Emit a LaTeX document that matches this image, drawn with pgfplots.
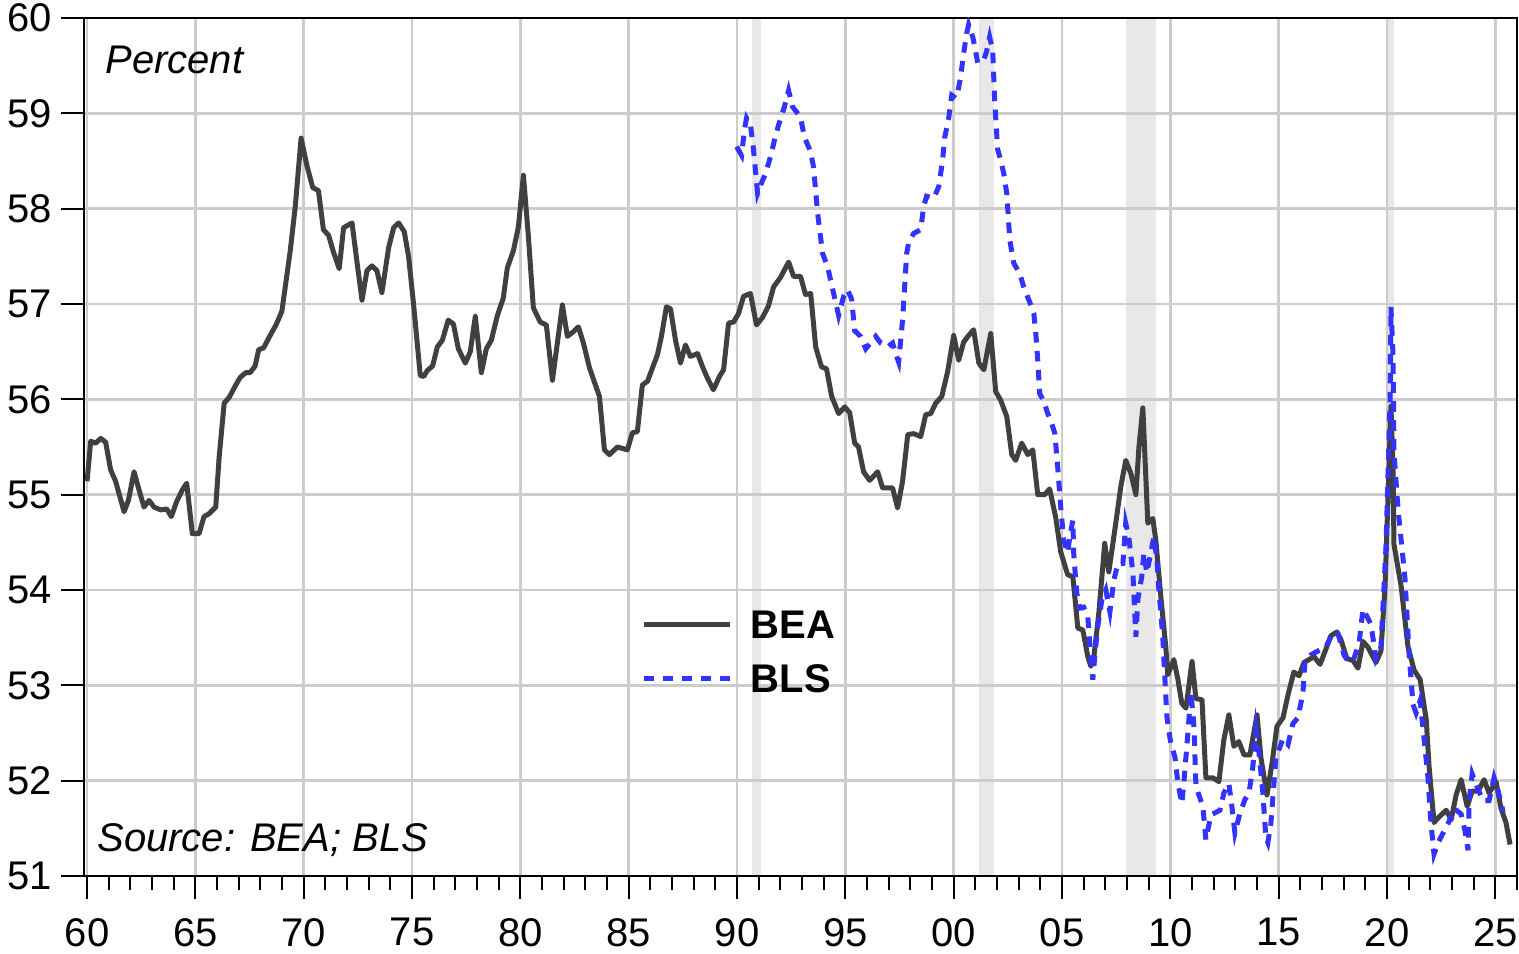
\documentclass[border=0pt]{standalone}
\usepackage{fontspec}
\setmainfont{Liberation Sans}
\usepackage{pgfplots}
\pgfplotsset{compat=1.18}
\definecolor{beagray}{HTML}{404040}
\definecolor{blsblue}{RGB}{51,51,255}
\definecolor{recess}{HTML}{E8E8E8}
\definecolor{gridgray}{HTML}{CCCCCC}
\begin{document}
\begin{tikzpicture}
\begin{axis}[
    scale only axis,
    width=716.5pt, height=429pt,
    xmin=1959.86, xmax=2026,
    ymin=51, ymax=60,
    xtick={1960,1965,...,2025},
    xticklabels={60,65,70,75,80,85,90,95,00,05,10,15,20,25},
    minor xtick={1960,...,2026},
    ytick={51,...,60},
    xtick pos=left, ytick pos=left,
    tick align=outside,
    major tick length=11.5pt, minor tick length=7pt,
    tick style={black, line width=1pt},
    grid=major,
    major grid style={gridgray, line width=1.2pt},
    axis line style={black, line width=1.4pt},
    ticklabel style={font=\fontsize{20}{24}\selectfont},
    /pgf/number format/assume math mode=true,
    yticklabel style={anchor=east, inner sep=0pt, xshift=-4.5pt},
    xticklabel style={anchor=north, inner sep=0pt, yshift=-9.5pt},
    set layers,
    legend style={at={(axis cs:1985.58,53.79)}, anchor=north west,
        draw=none, fill=none, inner sep=0pt, outer sep=0pt, row sep=12.7pt,
        font=\bfseries\fontsize{20}{24}\selectfont,
        nodes={inner sep=0pt, text height=14.3pt, text depth=0pt},
        /tikz/every odd column/.append style={column sep=9.35pt}},
    legend cell align=left,
    legend image code/.code={\draw[#1] (0pt,0pt) -- (43pt,0pt);},
]
% recessions
\addplot[on layer=axis background, draw=none, fill=recess, forget plot]
    coordinates {(1990.67,51) (1990.67,60) (1991.12,60) (1991.12,51)} -- cycle;
\addplot[on layer=axis background, draw=none, fill=recess, forget plot]
    coordinates {(2001.17,51) (2001.17,60) (2001.86,60) (2001.86,51)} -- cycle;
\addplot[on layer=axis background, draw=none, fill=recess, forget plot]
    coordinates {(2007.94,51) (2007.94,60) (2009.33,60) (2009.33,51)} -- cycle;
\addplot[on layer=axis background, draw=none, fill=recess, forget plot]
    coordinates {(2020.00,51) (2020.00,60) (2020.33,60) (2020.33,51)} -- cycle;

% BEA
\addplot[beagray, line width=2.5pt, line join=round] table {
x y
1960.00 55.14
1960.17 55.56
1960.40 55.54
1960.63 55.59
1960.86 55.55
1961.09 55.26
1961.32 55.14
1961.71 54.82
1961.91 54.94
1962.17 55.24
1962.40 55.05
1962.63 54.87
1962.86 54.94
1963.09 54.87
1963.40 54.84
1963.68 54.85
1963.89 54.77
1964.14 54.93
1964.40 55.05
1964.60 55.12
1964.86 54.59
1965.17 54.59
1965.40 54.77
1965.63 54.80
1965.94 54.87
1966.10 55.40
1966.33 55.96
1966.56 56.02
1966.84 56.14
1967.07 56.23
1967.33 56.28
1967.53 56.28
1967.76 56.35
1967.92 56.52
1968.15 56.54
1968.38 56.64
1968.72 56.78
1968.99 56.92
1969.15 57.18
1969.38 57.56
1969.61 58.02
1969.88 58.74
1970.15 58.45
1970.42 58.22
1970.68 58.19
1970.91 57.78
1971.15 57.72
1971.38 57.54
1971.64 57.37
1971.84 57.80
1972.23 57.85
1972.46 57.44
1972.69 57.04
1972.92 57.35
1973.15 57.40
1973.38 57.35
1973.61 57.12
1973.92 57.59
1974.15 57.80
1974.38 57.85
1974.64 57.76
1974.84 57.50
1975.07 57.00
1975.38 56.25
1975.54 56.24
1975.70 56.30
1975.95 56.35
1976.17 56.55
1976.40 56.62
1976.67 56.83
1976.91 56.79
1977.14 56.53
1977.46 56.38
1977.69 56.50
1977.92 56.87
1978.20 56.28
1978.43 56.53
1978.66 56.62
1978.94 56.88
1979.21 57.06
1979.40 57.38
1979.68 57.56
1979.91 57.81
1980.14 58.35
1980.37 57.71
1980.60 56.96
1980.92 56.81
1981.20 56.78
1981.48 56.20
1981.94 56.99
1982.17 56.66
1982.45 56.71
1982.68 56.76
1982.91 56.59
1983.19 56.33
1983.65 56.03
1983.88 55.47
1984.11 55.42
1984.48 55.50
1984.94 55.47
1985.17 55.65
1985.40 55.66
1985.63 56.15
1985.87 56.19
1986.10 56.33
1986.33 56.47
1986.51 56.66
1986.74 56.97
1986.93 56.95
1987.16 56.62
1987.39 56.38
1987.62 56.57
1987.85 56.45
1988.18 56.48
1988.41 56.34
1988.64 56.22
1988.91 56.10
1989.19 56.24
1989.38 56.31
1989.61 56.80
1989.84 56.81
1990.07 56.90
1990.30 57.08
1990.62 57.11
1990.90 56.78
1991.18 56.86
1991.45 56.98
1991.69 57.18
1992.01 57.28
1992.38 57.44
1992.61 57.29
1992.93 57.29
1993.16 57.10
1993.40 57.11
1993.63 56.55
1993.90 56.34
1994.13 56.32
1994.37 56.03
1994.69 55.85
1994.97 55.92
1995.20 55.86
1995.43 55.54
1995.61 55.50
1995.84 55.24
1996.12 55.15
1996.49 55.24
1996.72 55.07
1997.18 55.07
1997.41 54.86
1997.64 55.14
1997.88 55.63
1998.15 55.64
1998.48 55.61
1998.71 55.84
1998.94 55.85
1999.17 55.96
1999.45 56.03
1999.72 56.29
2000.00 56.67
2000.23 56.41
2000.46 56.60
2000.69 56.67
2000.92 56.73
2001.16 56.38
2001.39 56.31
2001.71 56.69
2001.94 56.08
2002.17 55.99
2002.45 55.82
2002.68 55.42
2002.86 55.36
2003.14 55.54
2003.42 55.42
2003.65 55.47
2003.88 55.00
2004.20 55.00
2004.43 55.06
2004.71 54.76
2004.94 54.40
2005.26 54.16
2005.50 54.14
2005.73 53.60
2005.96 53.58
2006.19 53.30
2006.33 53.20
2006.47 53.30
2006.70 53.76
2006.97 54.49
2007.16 54.19
2007.48 54.70
2007.71 55.08
2007.94 55.36
2008.18 55.22
2008.41 55.00
2008.55 55.50
2008.73 55.91
2008.96 54.70
2009.19 54.75
2009.33 54.52
2009.56 53.93
2009.79 53.40
2009.88 53.11
2010.16 53.27
2010.35 53.06
2010.53 52.81
2010.72 52.76
2011.00 53.25
2011.18 52.86
2011.46 52.85
2011.64 52.03
2011.96 52.03
2012.24 51.99
2012.47 52.43
2012.70 52.69
2012.93 52.36
2013.16 52.41
2013.40 52.27
2013.67 52.27
2014.00 52.69
2014.18 52.24
2014.46 51.85
2014.69 52.18
2014.92 52.57
2015.20 52.66
2015.43 52.90
2015.70 53.14
2015.94 53.10
2016.17 53.24
2016.63 53.30
2016.91 53.22
2017.18 53.38
2017.41 53.52
2017.69 53.56
2017.87 53.48
2018.15 53.28
2018.43 53.26
2018.66 53.18
2018.89 53.46
2019.12 53.40
2019.49 53.24
2019.72 53.36
2019.91 54.04
2020.05 55.00
2020.18 55.93
2020.28 55.28
2020.32 54.48
2020.65 54.04
2020.97 53.40
2021.25 53.16
2021.53 53.06
2021.81 52.64
2021.94 52.15
2022.17 51.56
2022.36 51.61
2022.73 51.69
2022.96 51.59
2023.19 51.85
2023.42 52.01
2023.70 51.73
2023.93 51.89
2024.20 51.89
2024.48 52.01
2024.71 51.87
2025.03 51.99
2025.26 51.71
2025.49 51.56
2025.68 51.33
};
\addlegendentry{BEA}

% BLS
\addplot[blsblue, line width=2.5pt, dash pattern=on 5.3pt off 4.2pt] table {
x y
1989.98 58.65
1990.21 58.56
1990.35 58.84
1990.44 58.95
1990.62 58.88
1990.76 58.62
1990.95 58.16
1991.13 58.27
1991.32 58.37
1991.55 58.55
1991.73 58.72
1991.92 58.88
1992.19 59.07
1992.38 59.24
1992.56 59.07
1992.93 58.96
1993.11 58.75
1993.39 58.60
1993.53 58.44
1993.72 57.95
1993.95 57.53
1994.18 57.39
1994.46 57.11
1994.69 56.88
1994.92 57.08
1995.10 57.15
1995.29 57.05
1995.43 56.72
1995.70 56.66
1995.94 56.53
1996.40 56.66
1996.63 56.59
1996.95 56.55
1997.18 56.59
1997.32 56.48
1997.46 56.39
1997.64 56.83
1997.83 57.53
1997.92 57.64
1998.15 57.74
1998.48 57.78
1998.61 58.02
1998.75 58.13
1999.08 58.11
1999.31 58.23
1999.49 58.51
1999.58 58.74
1999.77 58.95
1999.91 59.19
2000.09 59.16
2000.18 59.21
2000.32 59.38
2000.46 59.63
2000.60 59.84
2000.69 59.93
2000.88 59.80
2000.97 59.70
2001.11 59.53
2001.39 59.56
2001.52 59.65
2001.66 59.80
2001.80 59.66
2001.89 59.14
2002.03 58.62
2002.17 58.51
2002.31 58.37
2002.45 58.16
2002.59 57.67
2002.77 57.43
2003.05 57.32
2003.23 57.18
2003.56 56.99
2003.70 56.90
2003.79 56.69
2003.88 56.41
2003.97 56.06
2004.16 55.98
2004.34 55.85
2004.48 55.78
2004.67 55.64
2004.80 55.29
2004.94 54.87
2005.08 54.52
2005.26 54.39
2005.36 54.56
2005.50 54.73
2005.54 54.38
2005.68 53.97
2005.82 53.81
2006.00 53.82
2006.19 53.72
2006.28 53.44
2006.42 53.06
2006.51 53.30
2006.65 53.62
2006.84 53.90
2007.02 54.00
2007.21 53.77
2007.39 54.10
2007.58 54.28
2007.81 54.28
2007.94 54.70
2008.08 54.56
2008.27 54.18
2008.41 53.51
2008.50 53.90
2008.68 54.14
2008.78 54.39
2008.91 54.18
2009.10 54.39
2009.24 54.56
2009.38 54.31
2009.47 54.00
2009.65 53.51
2009.75 53.06
2009.84 52.67
2010.02 52.39
2010.21 52.25
2010.35 51.97
2010.53 51.76
2010.62 51.97
2010.81 52.50
2010.95 52.93
2011.09 52.57
2011.18 51.95
2011.27 51.88
2011.50 51.73
2011.64 51.38
2011.87 51.64
2012.29 51.69
2012.47 51.87
2012.70 51.97
2012.84 51.73
2012.98 51.45
2013.21 51.66
2013.44 51.80
2013.63 51.87
2013.81 52.15
2013.95 52.53
2014.09 52.29
2014.27 51.87
2014.41 51.40
2014.50 51.35
2014.64 51.55
2014.87 52.24
2015.20 52.44
2015.43 52.38
2015.66 52.60
2015.89 52.66
2016.12 52.92
2016.21 53.24
2016.49 53.32
2016.81 53.36
2017.18 53.40
2017.51 53.56
2017.74 53.54
2018.01 53.32
2018.24 53.24
2018.47 53.28
2018.71 53.44
2018.89 53.80
2019.08 53.72
2019.26 53.64
2019.49 53.28
2019.72 53.40
2019.95 54.44
2020.05 55.25
2020.14 55.97
2020.18 56.97
2020.28 56.45
2020.32 55.45
2020.51 54.84
2020.69 54.44
2020.83 54.12
2021.02 53.32
2021.20 52.80
2021.34 52.71
2021.53 52.84
2021.71 52.44
2021.89 52.03
2022.03 51.55
2022.17 51.23
2022.36 51.35
2022.63 51.47
2022.86 51.57
2023.09 51.71
2023.42 51.65
2023.60 51.47
2023.74 51.27
2023.79 51.79
2023.93 52.07
2024.20 51.91
2024.43 51.79
2024.71 51.79
2024.94 52.03
2025.13 51.89
2025.36 51.67
};
\addlegendentry{BLS}

\node[anchor=base west, inner sep=0pt, font=\itshape\fontsize{20}{24}\selectfont]
    at (rel axis cs:0.0147,0.935) {Percent};
\node[anchor=base west, inner sep=0pt, font=\itshape\fontsize{20}{24}\selectfont]
    at (rel axis cs:0.0091,0.028) {Source: BEA; BLS};
\end{axis}
\pgfresetboundingbox
\path (current axis.south west) ++(-42pt,-39pt) coordinate (bl);
\path (current axis.north east) ++(1pt,9pt) coordinate (tr);
\path[use as bounding box] (bl) rectangle (tr);
\end{tikzpicture}
\end{document}
